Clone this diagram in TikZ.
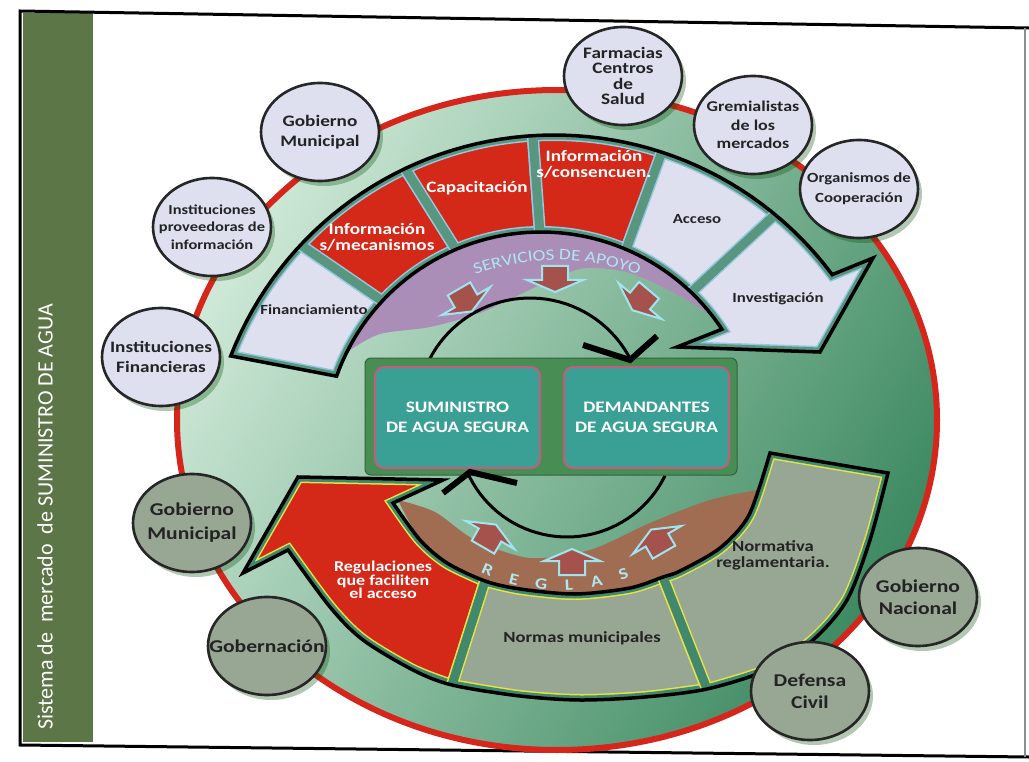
\documentclass[tikz,border=0pt]{standalone}
\usepackage{fontspec}
\setmainfont{Carlito}
\newfontfamily\wide[FakeStretch=1.2]{Carlito}
\usetikzlibrary{positioning,shapes.geometric,shadows,decorations.text}

\definecolor{pale}{RGB}{222,224,240}
\definecolor{segred}{RGB}{212,40,24}
\definecolor{bandgreen}{RGB}{88,150,128}
\definecolor{lowgreen}{RGB}{66,136,108}
\definecolor{edgeblue}{RGB}{150,200,225}
\definecolor{edgeyellow}{RGB}{228,228,70}
\definecolor{normfill}{RGB}{152,166,148}
\definecolor{ringred}{RGB}{214,38,28}
\definecolor{mint}{RGB}{205,232,214}
\definecolor{deepgreen}{RGB}{62,138,98}
\definecolor{sideband}{RGB}{92,118,72}
\definecolor{apoyolilac}{RGB}{170,142,184}
\definecolor{reglasbrown}{RGB}{160,108,82}
\definecolor{arrowbrown}{RGB}{166,82,76}
\definecolor{arrowedge}{RGB}{160,228,240}
\definecolor{coregreen}{RGB}{72,142,84}
\definecolor{coreteal}{RGB}{58,160,150}
\definecolor{corepink}{RGB}{190,95,125}
\definecolor{ink}{RGB}{35,35,35}
\definecolor{lettercyan}{RGB}{175,230,240}

\begin{document}
\begin{tikzpicture}[x=1pt,y=-1pt,
	support/.style={ellipse,draw=black!85,line width=2.6pt,fill=pale,minimum width=118pt,minimum height=98pt,inner xsep=-25pt,inner ysep=-8pt,align=center,text=ink,font=\wide\bfseries\fontsize{16}{20}\selectfont,drop shadow={shadow xshift=4pt,shadow yshift=-5pt,opacity=.3,fill=black!70!green}},
	ruling/.style={support,fill=normfill,font=\wide\bfseries\fontsize{18}{22}\selectfont},
	darklabel/.style={text=ink,align=center,inner sep=1pt,font=\wide\bfseries\fontsize{14}{16}\selectfont},
	redlabel/.style={text=white,align=center,inner sep=1pt,font=\wide\bfseries\fontsize{16}{16}\selectfont},
	core/.style={rounded corners=9pt,fill=coreteal,draw=corepink,line width=2pt,minimum width=165pt,minimum height=101pt,align=center,text=white,font=\wide\bfseries\fontsize{16}{20}\selectfont},
	topseg/.style={preaction={fill=#1},preaction={draw=edgeblue,line width=12pt},draw=bandgreen,line width=9pt},
	lowseg/.style={preaction={fill=#1},preaction={draw=edgeyellow,line width=12pt},draw=lowgreen,line width=9pt},
	blockarrow/.style={fill=arrowbrown,draw=arrowedge,line width=2pt},
	reglas/.style={text=lettercyan,inner sep=0pt,font=\wide\bfseries\fontsize{16}{16}\selectfont}]
	\useasboundingbox (0,0) rectangle (1029,762);
	\fill[white] (0,0) rectangle (1029,762);

	% frame and side band
	\fill[sideband] (23,13) rectangle (93,742);
	\node[rotate=90,text=white,inner sep=0pt,font=\fontsize{22}{22}\selectfont] (title) at (45,517) {Sistema de\ \ mercado\ \ de SUMINISTRO DE AGUA};
	\draw[line width=3pt] (1029,28) -- (20,11) -- (20,745) -- (1029,757);
	\draw[black!45,line width=1.2pt] (1025,28) -- (1025,757);

	% market ring
	\shade[top color=mint,bottom color=deepgreen,shading angle=60] (557,420) ellipse [x radius=380,y radius=330];
	\draw[ringred,line width=6pt] (557,420) ellipse [x radius=380,y radius=330];

	\fill[apoyolilac] plot[domain=207:326.5,samples=50] ({541+217*cos(\x)},{449+217*sin(\x)}) -- plot[smooth] coordinates {(713,317) (680,296) (630,273) (587,268) (557,277) (523,293) (480,313) (430,327) (380,334) (350,350)} -- cycle;
	\fill[reglasbrown] plot[smooth] coordinates {(398,500) (420,540) (447,563) (485,581) (520,589) (575,594) (630,588) (680,571) (720,548) (749,515) (758,490)} -- plot[smooth] coordinates {(758,490) (710,500) (650,523) (590,550) (530,558) (475,540) (435,512) (398,500)} -- cycle;

	% cycle arrows
	\draw[line width=3pt] plot[domain=200:333,samples=40] ({530+113*cos(\x)},{411+113*sin(\x)});
	\draw[line width=3pt] plot[domain=26:156,samples=40] ({567+109*cos(\x)},{428+109*sin(\x)});

	\foreach \px/\py/\rot in {466/301/30,555/280/0,640/301/-40,490/535/150,572/561/180,657/540/210}
		\draw[blockarrow,shift={(\px,\py)},rotate=\rot] (-13,-14) -- (13,-14) -- (13,0) -- (28,0) -- (0,12) -- (-28,0) -- (-13,0) -- cycle;

	\path[decorate,decoration={text along path,text align=center,text={|\wide\fontsize{16}{16}\selectfont\color{lettercyan}|SERVICIOS DE APOYO}}] plot[domain=238:302,samples=60] ({557+232*cos(\x)},{492+232*sin(\x)});
	\foreach \ch/\ang in {R/113,E/104.4,G/95.8,L/87.2,A/78.6,S/70}
		\node[reglas,rotate=90-\ang] (r\ch) at ({560+185*cos(\ang)},{400+185*sin(\ang)}) {\ch};

	% top band
	\begin{scope}
		\clip plot[domain=201.3:323.3,samples=60] ({554+347*cos(\x)},{482+347*sin(\x)}) -- (873,258) -- (820,352) -- (677,347) -- plot[domain=326.5:199.6,samples=60] ({541+217*cos(\x)},{449+217*sin(\x)}) -- cycle;
		\foreach \a/\b/\c/\d/\col in {201.3/223.1/199.6/223/pale,223.1/244.6/223/246.9/segred,244.6/266.5/246.9/269.7/segred,266.5/288.1/269.7/293.1/segred,288.1/309.6/293.1/313.8/pale}
			\path[topseg=\col] plot[domain=\a:\b,samples=20] ({554+347*cos(\x)},{482+347*sin(\x)}) -- plot[domain=\d:\c,samples=20] ({541+217*cos(\x)},{449+217*sin(\x)}) -- cycle;
		\path[topseg=pale] plot[domain=309.6:323.3,samples=10] ({554+347*cos(\x)},{482+347*sin(\x)}) -- (873,258) -- (820,352) -- (677,347) -- plot[domain=326.5:313.8,samples=10] ({541+217*cos(\x)},{449+217*sin(\x)}) -- cycle;
	\end{scope}
	\draw[line width=3.5pt] plot[domain=201.3:323.3,samples=60] ({554+347*cos(\x)},{482+347*sin(\x)}) -- (873,258) -- (820,352) -- (677,347) -- plot[domain=326.5:199.6,samples=60] ({541+217*cos(\x)},{449+217*sin(\x)}) -- cycle;

	% bottom band
	\begin{scope}
		\clip plot[smooth] coordinates {(888,473) (870,540) (847,600) (813,640) (767,670) (707,689) (645,697) (580,700) (520,696) (452,685) (413,670) (363,640) (330,607) (288,550)} -- (243,573) -- (298,477) -- (443,480) -- plot[smooth] coordinates {(393,503) (420,540) (447,563) (485,581) (520,589) (575,594) (630,588) (663,577) (680,571) (720,548) (749,515) (770,453)} -- cycle;
		\path[lowseg=segred] plot[smooth] coordinates {(452,685) (413,670) (363,640) (330,607) (288,550)} -- (243,573) -- (298,477) -- (443,480) -- plot[smooth] coordinates {(393,503) (420,540) (447,563) (485,581)} -- cycle;
		\path[lowseg=normfill] plot[smooth] coordinates {(485,581) (520,589) (575,594) (630,588) (663,577)} -- plot[smooth] coordinates {(707,689) (645,697) (580,700) (520,696) (452,685)} -- cycle;
		\path[lowseg=normfill] plot[smooth] coordinates {(663,577) (680,571) (720,548) (749,515) (770,453)} -- plot[smooth] coordinates {(888,473) (870,540) (847,600) (813,640) (767,670) (707,689)} -- cycle;
	\end{scope}
	\draw[line width=3.5pt] plot[smooth] coordinates {(888,473) (870,540) (847,600) (813,640) (767,670) (707,689) (645,697) (580,700) (520,696) (452,685) (413,670) (363,640) (330,607) (288,550)} -- (243,573) -- (298,477) -- (443,480) -- plot[smooth] coordinates {(393,503) (420,540) (447,563) (485,581) (520,589) (575,594) (630,588) (663,577) (680,571) (720,548) (749,515) (770,453)} -- cycle;

	% band labels
	\node[darklabel] (fin) at (314,310) {Financiamiento};
	\node[redlabel] (imec) at (377,237) {Información\\s/mecanismos};
	\node[redlabel] (cap) at (477,188) {Capacitación};
	\node[redlabel] (icon) at (594,164) {Información\\s/consencuen.};
	\node[darklabel] (acc) at (697,219) {Acceso};
	\node[darklabel] (inv) at (778,299) {Investigación};
	\node[redlabel,font=\wide\bfseries\fontsize{15}{13.5}\selectfont] (reg) at (383,580) {Regulaciones\\que faciliten\\el acceso};
	\node[darklabel,font=\wide\bfseries\fontsize{15.5}{16}\selectfont] (nmu) at (582,638) {Normas municipales};
	\node[darklabel,font=\wide\bfseries\fontsize{15.5}{16}\selectfont] (nre) at (773,555) {Normativa\\reglamentaria.};

	% market core
	\node[fill=coregreen,draw=coregreen!70!black,rounded corners=6pt,minimum width=372pt,minimum height=117pt,line width=1pt] (market) at (551,416.5) {};
	\node[core] (supply) at (457.5,417.5) {SUMINISTRO\\DE AGUA SEGURA};
	\node[core] (demand) [right=22pt of supply] {DEMANDANTES\\DE AGUA SEGURA};
	\draw[line width=6pt] (583,345) -- (630,360) -- (657,336);
	\draw[line width=6pt] (443,493) -- (470,472) -- (517,483);

	% actors
	\node[support] (gm1) at (320,132) {Gobierno\\Municipal};
	\node[support,font=\wide\bfseries\fontsize{13.7}{17.5}\selectfont] (ipi) at (212,227) {Instituciones\\proveedoras de\\información};
	\node[support] (ifi) at (161,357) {Instituciones\\Financieras};
	\node[support,font=\wide\bfseries\fontsize{16}{15.5}\selectfont] (fcs) at (623,76) {Farmacias\\Centros\\de\\Salud};
	\node[support,font=\wide\bfseries\fontsize{15}{18.5}\selectfont] (gdm) at (753,125) {Gremialistas\\de los\\mercados};
	\node[support,font=\wide\bfseries\fontsize{14}{20}\selectfont] (odc) at (859,189) {Organismos de\\Cooperación};
	\node[ruling,font=\wide\bfseries\fontsize{18}{24}\selectfont] (gm2) at (192,523) {Gobierno\\Municipal};
	\node[ruling] (gob) at (267,646) {Gobernación};
	\node[ruling] (gna) at (918,597) {Gobierno\\Nacional};
	\node[ruling] (dci) at (810,691) {Defensa\\Civil};
\end{tikzpicture}
\end{document}
